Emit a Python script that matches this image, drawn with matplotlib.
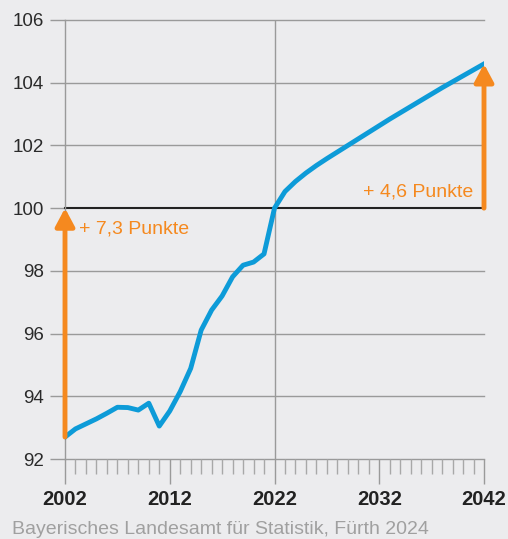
import matplotlib.pyplot as plt
import numpy as np

plt.rcParams['font.family'] = ['Liberation Sans', 'DejaVu Sans']

years = list(range(2002, 2043))
index = [92.70, 92.96, 93.12, 93.28, 93.46, 93.65, 93.64, 93.56, 93.78, 93.05,
         93.53, 94.15, 94.89, 96.11, 96.75, 97.20, 97.81, 98.18, 98.28, 98.54,
         100.00, 100.53, 100.85, 101.12, 101.36, 101.58, 101.79, 102.00, 102.21, 102.42,
         102.63, 102.84, 103.04, 103.24, 103.44, 103.64, 103.84, 104.03, 104.22, 104.41,
         104.60]
y_ticks = [92, 94, 96, 98, 100, 102, 104, 106]
x_major = [2002, 2012, 2022, 2032, 2042]
label_left = '+ 7,3 Punkte'
label_right = '+ 4,6 Punkte'
source = 'Bayerisches Landesamt für Statistik, Fürth 2024'

bg = '#ececee'
grid = '#9a9a9a'
blue = '#0d9bd8'
orange = '#f5891f'

fig = plt.figure(figsize=(5.08, 5.39), dpi=100, facecolor=bg)
ax = fig.add_axes([65/508, 1-459/539, (484-65)/508, (459-20)/539])
ax.set_facecolor(bg)

ax.set_xlim(2002, 2042)
ax.set_ylim(92, 106)

for s in ['top', 'right', 'bottom']:
    ax.spines[s].set_visible(False)
ax.spines['left'].set_color(grid)
ax.spines['left'].set_linewidth(1)

# grid lines (not clipped so the edge lines are full width)
for v in y_ticks:
    if v == 100:
        continue
    ax.axhline(v, color=grid, lw=1, zorder=1, clip_on=False)
ax.axvline(2022, color=grid, lw=1, zorder=1)
ax.axhline(100, color='#222222', lw=1.5, zorder=2, clip_on=False)

ax.set_yticks(y_ticks)
ax.set_yticklabels([str(v) for v in y_ticks])
ax.tick_params(axis='y', length=11, width=1, color=grid, pad=4,
               labelsize=13.5, labelcolor='#2a2a2a')

ax.set_xticks(x_major)
ax.set_xticklabels([str(v) for v in x_major], fontweight='bold')
ax.set_xticks(years, minor=True)
ax.tick_params(axis='x', which='major', length=18, width=1, color=grid, pad=4,
               labelsize=14.5, labelcolor='#222222')
ax.tick_params(axis='x', which='minor', length=11, width=1, color='#a8a8a8')

ax.plot(years, index, color=blue, lw=3.5, solid_joinstyle='round', zorder=3)

arrow = dict(arrowstyle='-|>,head_width=0.48,head_length=0.9', color=orange,
             lw=3.5, shrinkA=0, shrinkB=0, mutation_scale=12)
a1 = ax.annotate('', xy=(years[0], 100), xytext=(years[0], index[0]),
                 arrowprops=arrow, zorder=5, annotation_clip=False)
a2 = ax.annotate('', xy=(years[-1], index[-1]), xytext=(years[-1], 100),
                 arrowprops=arrow, zorder=5, annotation_clip=False)
a1.arrow_patch.set_clip_on(False)
a2.arrow_patch.set_clip_on(False)

ax.text(2003.3, 99.35, label_left, color=orange, fontsize=14, va='center', ha='left')
ax.text(2041.0, 100.5, label_right, color=orange, fontsize=14, va='center', ha='right')

fig.text(12/508, 1-530/539, source, color='#a0a0a0', fontsize=14, va='center', ha='left')

fig.savefig('out.png', dpi=100, facecolor=bg)
